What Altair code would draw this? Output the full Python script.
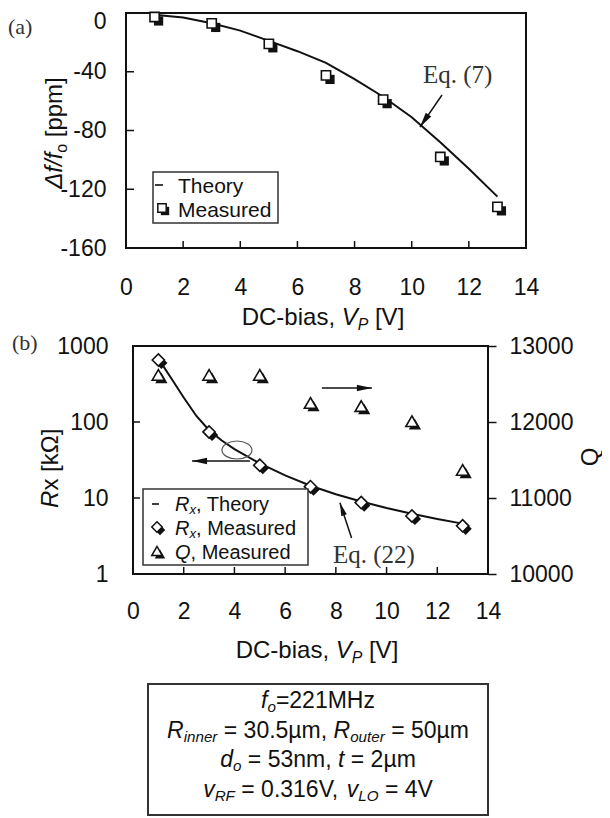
import altair as alt
import pandas as pd

W, H = 594, 810
INK = "#111111"
SANS = "Liberation Sans"
SERIF = "Liberation Serif"

# ---------------- data ----------------
VP = [1, 3, 5, 7, 9, 11, 13]
DF_MEAS = [-2.7, -7.1, -21, -42.5, -59, -98, -132]
THEORY_V = [1.08, 2, 3, 4, 5, 6, 7, 8, 9, 10, 11, 12, 13]
THEORY_DF = [-1.4, -3, -7, -12, -19, -26, -34, -45, -57, -71, -88, -106, -125]

RX_MEAS = [655, 74, 27, 14.1, 8.7, 5.8, 4.3]
Q_MEAS = [12620, 12620, 12620, 12250, 12210, 12010, 11370]
RX_THEORY_V = [1.2, 1.5, 2, 2.5, 3, 3.5, 4, 5, 6, 7, 8, 9, 10, 11, 12, 13]
RX_THEORY = [540, 380, 210, 120, 78, 57, 44, 28.5, 19.8, 14.5, 11.2, 9.0, 7.4, 6.2, 5.3, 4.6]

X_TICKS = [0, 2, 4, 6, 8, 10, 12, 14]
X_INNER = [2, 4, 6, 8, 10, 12]
YA_TICKS = [0, -40, -80, -120, -160]
YA_INNER = [-40, -80, -120]
YB_TICKS = [1, 10, 100, 1000]
YB_INNER = [10, 100]
Q_TICKS = [10000, 11000, 12000, 13000]

# annotation anchors (data units)
EQ7_ARROW = {"x": [11.06], "y": [-55.8], "x2": [10.29], "y2": [-77.6]}
Q_ARROW = {"x": [7.45], "x2": [9.42], "y": [12447]}
RX_ARROW = {"x": [4.61], "x2": [2.33], "y": [30.7]}
EQ22_ARROW = {"x": [8.62], "y": [2.98], "x2": [8.16], "y2": [8.67]}
ELLIPSE = {"x": [4.1], "y": [42.8]}

# ---------------- scales ----------------
XA = alt.Scale(domain=[0, 14], range=[118, 518], nice=False, zero=False)
YA = alt.Scale(domain=[-160, 0], range=[240, 5], nice=False, zero=False)
XB = alt.Scale(domain=[0, 14], range=[125, 480], nice=False, zero=False)
YB = alt.Scale(type="log", domain=[1, 1000], range=[566, 338], nice=False)
QB = alt.Scale(domain=[10000, 13000], range=[566, 338], nice=False, zero=False)

ARROW = "M0,0 L0.22,1 L-0.22,1 Z"
ELL = "M-1,0 A1,0.6 0 1,1 1,0 A1,0.6 0 1,1 -1,0 Z"

AW = {' ': 278, '!': 278, '(': 333, ')': 333, ',': 278, '-': 333, '.': 278, '/': 278,
      '=': 584, '[': 278, ']': 278, 'A': 667, 'C': 722, 'D': 722, 'E': 667, 'F': 611,
      'H': 722, 'L': 556, 'M': 833, 'O': 778, 'P': 667, 'Q': 778, 'R': 722, 'T': 611,
      'V': 667, 'a': 556, 'b': 556, 'd': 556, 'e': 556, 'f': 278, 'h': 556, 'i': 222,
      'k': 500, 'm': 833, 'n': 556, 'o': 556, 'p': 556, 'r': 333, 's': 500, 't': 278,
      'u': 556, 'v': 500, 'x': 500, 'y': 500, 'z': 500, 'Ω': 768, 'µ': 576, 'Δ': 668}
for d in "0123456789":
    AW[d] = 556
SUB = 0.66


def tw(s, size):
    return sum(AW.get(c, 556) for c in s) / 1000.0 * size


def text_layer(s, x, y, size, font=SANS, italic=False, angle=0, align="left",
               baseline="alphabetic", color=INK):
    return alt.Chart(pd.DataFrame({"t": [s]})).mark_text(
        align=align, baseline=baseline, font=font, fontSize=size,
        fontStyle="italic" if italic else "normal", angle=angle, color=color
    ).encode(text="t:N", x=alt.value(x), y=alt.value(y))


def rich(segs, cx, cy, size, angle=0, anchor="center", sub_shift=0.22):
    widths = [tw(t, size * SUB if sub else size) for t, it, sub in segs]
    total = sum(widths)
    pos = -total / 2 if anchor == "center" else 0
    out = []
    for (t, it, sub), w in zip(segs, widths):
        sz = size * SUB if sub else size
        shift = size * sub_shift if sub else 0
        lead = len(t) - len(t.lstrip(" "))
        p = pos + tw(" " * lead, sz)
        s = t.strip(" ")
        if angle == 0:
            x, y = cx + p, cy + shift
        else:
            x, y = cx + shift, cy - p
        out.append(text_layer(s, x, y, sz, italic=it, angle=angle))
        pos += w
    return out


def lab_axis(orient, offset, values, pad, ticks=False, tick_size=0, label_offset=0):
    return alt.Axis(orient=orient, offset=offset, values=values,
                    labelExpr="'' + datum.value", ticks=ticks, tickSize=tick_size,
                    tickColor=INK, tickWidth=1.5, domain=False, grid=False,
                    labelFont=SANS, labelFontSize=23, labelColor=INK,
                    labelPadding=pad, labelFlush=False, labelOverlap=False,
                    labelOffset=label_offset, title=None)


def one(d):
    return alt.Chart(pd.DataFrame(d))


layers = []

# ================= panel (a) =================
ya_label_offset = {"condition": {"test": "datum.value == 0", "value": 8}, "value": 0}
layers.append(one({"x": [0], "x2": [14], "y": [-160], "y2": [0]}).mark_rect(
    fill="white", fillOpacity=0, stroke=INK, strokeWidth=2).encode(
    x=alt.X("x:Q", scale=XA, axis=lab_axis("bottom", 240 - H, X_TICKS, 28)),
    x2="x2:Q",
    y=alt.Y("y:Q", scale=YA, axis=lab_axis("left", -118, YA_TICKS, 20,
                                             label_offset=ya_label_offset)),
    y2="y2:Q"))
layers.append(one({"v": X_INNER}).mark_rule(color=INK, strokeWidth=1.5).encode(
    x=alt.X("v:Q", scale=XA, axis=None), y=alt.value(240), y2=alt.value(233)))
layers.append(one({"v": YA_INNER}).mark_rule(color=INK, strokeWidth=1.5).encode(
    y=alt.Y("v:Q", scale=YA, axis=None), x=alt.value(118), x2=alt.value(126)))
layers.append(one({"v": THEORY_V, "d": THEORY_DF}).mark_line(color=INK, strokeWidth=2).encode(
    x=alt.X("v:Q", scale=XA, axis=None), y=alt.Y("d:Q", scale=YA, axis=None), order="v:Q"))
a_meas = {"v": VP, "d": DF_MEAS}
layers.append(one(a_meas).mark_point(shape="square", size=85, filled=True, color=INK,
                                     opacity=1, xOffset=4, yOffset=4).encode(
    x=alt.X("v:Q", scale=XA, axis=None), y=alt.Y("d:Q", scale=YA, axis=None)))
layers.append(one(a_meas).mark_point(shape="square", size=85, fill="white", fillOpacity=1,
                                     stroke=INK, strokeWidth=1.6, opacity=1).encode(
    x=alt.X("v:Q", scale=XA, axis=None), y=alt.Y("d:Q", scale=YA, axis=None)))
# Eq. (7) arrow
layers.append(one(EQ7_ARROW).mark_rule(color=INK, strokeWidth=1.5).encode(
    x=alt.X("x:Q", scale=XA, axis=None), y=alt.Y("y:Q", scale=YA, axis=None),
    x2="x2:Q", y2="y2:Q"))
layers.append(one({"x": EQ7_ARROW["x2"], "y": EQ7_ARROW["y2"]}).mark_point(
    shape=ARROW, size=900, filled=True, color=INK, opacity=1, angle=214.5).encode(
    x=alt.X("x:Q", scale=XA, axis=None), y=alt.Y("y:Q", scale=YA, axis=None)))
layers.append(text_layer("Eq. (7)", 415, 75, 25, font=SERIF, color="#333333"))
layers.append(text_layer("(a)", 0, 26, 22, font=SERIF, color="#333333"))

# legend (a)
layers.append(one({"a": [0]}).mark_rect(fill="white", stroke="#333333", strokeWidth=1.5).encode(
    x=alt.value(145), x2=alt.value(270), y=alt.value(164), y2=alt.value(215)))
layers.append(one({"a": [0]}).mark_rule(color=INK, strokeWidth=1.6).encode(
    x=alt.value(147), x2=alt.value(155), y=alt.value(177)))
layers.append(one({"a": [0]}).mark_point(shape="square", size=70, filled=True, color=INK,
                                         opacity=1).encode(x=alt.value(157), y=alt.value(203)))
layers.append(one({"a": [0]}).mark_point(shape="square", size=70, fill="white", fillOpacity=1,
                                         stroke=INK, strokeWidth=1.5, opacity=1).encode(
    x=alt.value(154), y=alt.value(200)))
layers.append(text_layer("Theory", 170, 185, 21))
layers.append(text_layer("Measured", 170, 209, 21))

# x title (a)
layers += rich([("DC-bias, ", False, False), ("V", True, False), ("P", True, True),
                (" [V]", False, False)], 315, 317, 24)
# y title (a)
layers += rich([("Δf/f", True, False), ("o", False, True), (" [ppm]", False, False)],
               54, 125, 24, angle=270)

# ================= panel (b) =================
layers.append(one({"x": [0], "x2": [14], "y": [1], "y2": [1000]}).mark_rect(
    fill="white", fillOpacity=0, stroke=INK, strokeWidth=2).encode(
    x=alt.X("x:Q", scale=XB, axis=lab_axis("bottom", 566 - H, X_TICKS, 26)),
    x2="x2:Q",
    y=alt.Y("y:Q", scale=YB, axis=lab_axis("left", -125, YB_TICKS, 25)),
    y2="y2:Q"))
layers.append(one({"v": X_INNER}).mark_rule(color=INK, strokeWidth=1.5).encode(
    x=alt.X("v:Q", scale=XB, axis=None), y=alt.value(566), y2=alt.value(559)))
layers.append(one({"v": YB_INNER}).mark_rule(color=INK, strokeWidth=1.5).encode(
    y=alt.Y("v:Q", scale=YB, axis=None), x=alt.value(125), x2=alt.value(132)))
layers.append(one({"v": RX_THEORY_V, "r": RX_THEORY}).mark_line(color=INK, strokeWidth=2).encode(
    x=alt.X("v:Q", scale=XB, axis=None), y=alt.Y("r:Q", scale=YB, axis=None), order="v:Q"))
b_meas = {"v": VP, "r": RX_MEAS, "q": Q_MEAS}
layers.append(one(b_meas).mark_point(shape="diamond", size=150, filled=True, color=INK,
                                     opacity=1, xOffset=3, yOffset=3).encode(
    x=alt.X("v:Q", scale=XB, axis=None), y=alt.Y("r:Q", scale=YB, axis=None)))
layers.append(one(b_meas).mark_point(shape="diamond", size=150, fill="white", fillOpacity=1,
                                     stroke=INK, strokeWidth=1.6, opacity=1).encode(
    x=alt.X("v:Q", scale=XB, axis=None), y=alt.Y("r:Q", scale=YB, axis=None)))
layers.append(one(b_meas).mark_point(shape="triangle-up", size=150, filled=True, color=INK,
                                     opacity=1, xOffset=3, yOffset=3).encode(
    x=alt.X("v:Q", scale=XB, axis=None),
    y=alt.Y("q:Q", scale=QB, axis=lab_axis("right", 480 - W, Q_TICKS, 13, True, 8))))
layers.append(one(b_meas).mark_point(shape="triangle-up", size=150, fill="white", fillOpacity=1,
                                     stroke=INK, strokeWidth=1.6, opacity=1).encode(
    x=alt.X("v:Q", scale=XB, axis=None), y=alt.Y("q:Q", scale=QB, axis=None)))

# arrows (b)
layers.append(one(Q_ARROW).mark_rule(color=INK, strokeWidth=1.5).encode(
    x=alt.X("x:Q", scale=XB, axis=None), x2="x2:Q", y=alt.Y("y:Q", scale=QB, axis=None)))
layers.append(one({"x": Q_ARROW["x2"], "y": Q_ARROW["y"]}).mark_point(
    shape=ARROW, size=900, filled=True, color=INK, opacity=1, angle=90).encode(
    x=alt.X("x:Q", scale=XB, axis=None), y=alt.Y("y:Q", scale=QB, axis=None)))
layers.append(one(RX_ARROW).mark_rule(color=INK, strokeWidth=1.5).encode(
    x=alt.X("x:Q", scale=XB, axis=None), x2="x2:Q", y=alt.Y("y:Q", scale=YB, axis=None)))
layers.append(one({"x": RX_ARROW["x2"], "y": RX_ARROW["y"]}).mark_point(
    shape=ARROW, size=900, filled=True, color=INK, opacity=1, angle=270).encode(
    x=alt.X("x:Q", scale=XB, axis=None), y=alt.Y("y:Q", scale=YB, axis=None)))
layers.append(one(ELLIPSE).mark_point(shape=ELL, size=900, filled=False, color="#555555",
                                      strokeWidth=1.2, opacity=1).encode(
    x=alt.X("x:Q", scale=XB, axis=None), y=alt.Y("y:Q", scale=YB, axis=None)))
layers.append(one(EQ22_ARROW).mark_rule(color=INK, strokeWidth=1.5).encode(
    x=alt.X("x:Q", scale=XB, axis=None), y=alt.Y("y:Q", scale=YB, axis=None),
    x2="x2:Q", y2="y2:Q"))
layers.append(one({"x": EQ22_ARROW["x2"], "y": EQ22_ARROW["y2"]}).mark_point(
    shape=ARROW, size=700, filled=True, color=INK, opacity=1, angle=341.7).encode(
    x=alt.X("x:Q", scale=XB, axis=None), y=alt.Y("y:Q", scale=YB, axis=None)))
layers.append(text_layer("Eq. (22)", 325, 555, 25, font=SERIF, color="#333333"))
layers.append(text_layer("(b)", 4, 342, 22, font=SERIF, color="#333333"))

# legend (b)
layers.append(one({"a": [0]}).mark_rect(fill="white", stroke="#333333", strokeWidth=1.5).encode(
    x=alt.value(135), x2=alt.value(300), y=alt.value(481), y2=alt.value(557)))
layers.append(one({"a": [0]}).mark_rule(color=INK, strokeWidth=1.6).encode(
    x=alt.value(144), x2=alt.value(151), y=alt.value(496)))
layers.append(one({"a": [0]}).mark_point(shape="diamond", size=110, filled=True, color=INK,
                                         opacity=1).encode(x=alt.value(152), y=alt.value(522)))
layers.append(one({"a": [0]}).mark_point(shape="diamond", size=110, fill="white", fillOpacity=1,
                                         stroke=INK, strokeWidth=1.5, opacity=1).encode(
    x=alt.value(149), y=alt.value(519)))
layers.append(one({"a": [0]}).mark_point(shape="triangle-up", size=110, filled=True, color=INK,
                                         opacity=1).encode(x=alt.value(152), y=alt.value(546)))
layers.append(one({"a": [0]}).mark_point(shape="triangle-up", size=110, fill="white",
                                         fillOpacity=1, stroke=INK, strokeWidth=1.5,
                                         opacity=1).encode(x=alt.value(149), y=alt.value(543)))
LEG_B = [
    ([("R", True, False), ("x", True, True), (", Theory", False, False)], 503),
    ([("R", True, False), ("x", True, True), (", Measured", False, False)], 527),
    ([("Q", True, False), (", Measured", False, False)], 551),
]
for segs, by in LEG_B:
    layers += rich(segs, 167, by, 20, anchor="left", sub_shift=0.15)

# titles (b)
layers += rich([("DC-bias, ", False, False), ("V", True, False), ("P", True, True),
                (" [V]", False, False)], 309, 650, 24)
layers += rich([("R", True, False), ("x [kΩ]", False, False)], 50, 460, 24, angle=270)
layers.append(text_layer("Q", 590, 449, 24, angle=270, align="center"))

# ================= parameter box =================
layers.append(one({"a": [0]}).mark_rect(fill="white", stroke="#333333", strokeWidth=2).encode(
    x=alt.value(140), x2=alt.value(480), y=alt.value(676), y2=alt.value(807)))
BOX_LINES = [
    ([("f", True, False), ("o", True, True), ("=221MHz", False, False)], 700),
    ([("R", True, False), ("inner", True, True), (" = 30.5µm, ", False, False),
      ("R", True, False), ("outer", True, True), (" = 50µm", False, False)], 730),
    ([("d", True, False), ("o", True, True), (" = 53nm, ", False, False),
      ("t", True, False), (" = 2µm", False, False)], 759),
    ([("v", True, False), ("RF", True, True), (" = 0.316V, ", False, False),
      ("v", True, False), ("LO", True, True), (" = 4V", False, False)], 789),
]
for segs, by in BOX_LINES:
    layers += rich(segs, 310, by, 23, sub_shift=0.18)

chart = alt.layer(*layers).resolve_scale(x="independent", y="independent").properties(
    width=W, height=H, padding=0, autosize=alt.AutoSizeParams(type="none")
).configure_view(strokeWidth=0)

chart.save("out.html", embed_options={"renderer": "svg", "actions": False})
